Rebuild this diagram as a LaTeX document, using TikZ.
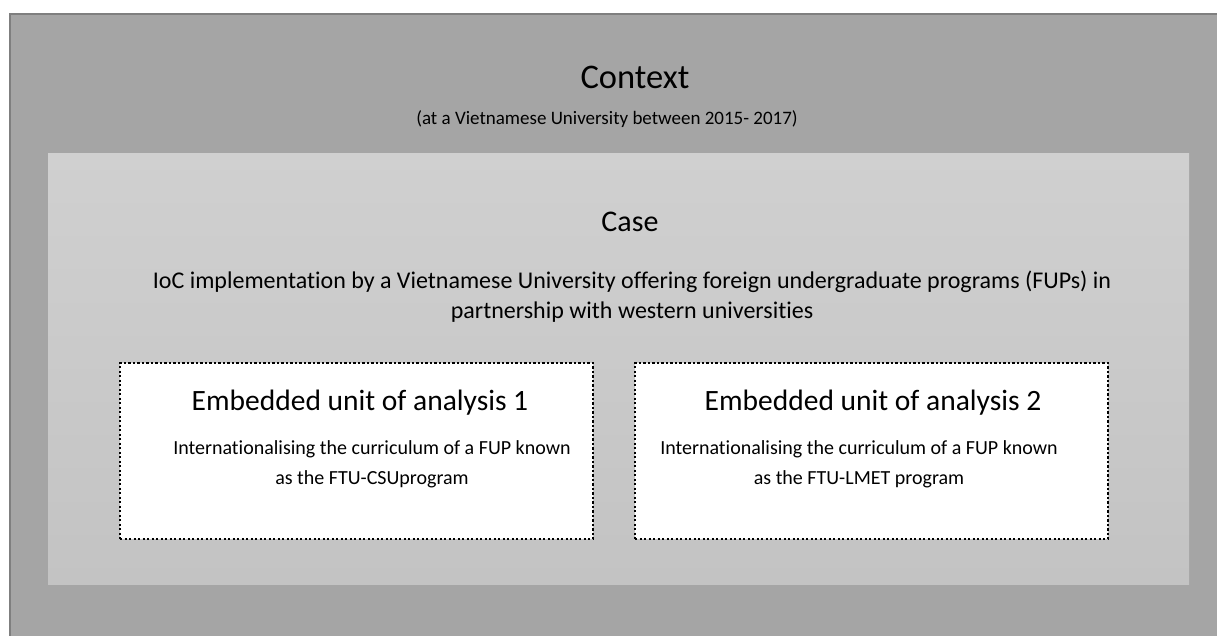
\documentclass[tikz,border=0pt]{standalone}
\usepackage{fontspec}
\setmainfont{Carlito}[Ligatures={NoCommon}]
\usetikzlibrary{positioning}

\definecolor{contextgrey}{HTML}{A5A5A5}
\definecolor{framegrey}{HTML}{7F7F7F}
\definecolor{casetop}{HTML}{D0D0D0}
\definecolor{casebottom}{HTML}{C3C3C3}

\begin{document}
\begin{tikzpicture}[
    x=1pt, y=-1pt,   % une unité = un pixel de l'image
    % Réglages des cadres
    contextbox/.style={draw=framegrey, line width=2.5pt, fill=contextgrey,
        anchor=north west, inner sep=0pt, outer sep=0pt},
    casebox/.style={top color=casetop, bottom color=casebottom,
        anchor=north west, inner sep=0pt, outer sep=0pt},
    unitbox/.style={draw=black, fill=white, line width=2.2pt,
        dash pattern=on 2.2pt off 2.3pt, line cap=butt,
        anchor=north west, inner sep=0pt, outer sep=0pt,
        minimum width=473pt, minimum height=176pt},
    % Réglages des textes (base = dernière ligne)
    bigtitle/.style={anchor=base, inner sep=0pt, font=\fontsize{34.5}{40}\selectfont},
    casetitle/.style={anchor=base, inner sep=0pt, font=\fontsize{30}{34}\selectfont},
    unittitle/.style={anchor=base, inner sep=0pt, font=\fontsize{29.5}{34}\selectfont},
    bodytext/.style={anchor=base, inner sep=0pt, align=center,
        font=\fontsize{24}{30}\selectfont},
    smalltext/.style={anchor=base, inner sep=0pt, align=center,
        font=\fontsize{20}{30}\selectfont}
]
\useasboundingbox (0,0) rectangle (1217,635);

% Cadres
\node[contextbox, minimum width=1240pt, minimum height=650pt] (context) at (10,14) {};
\node[casebox, minimum width=1141pt, minimum height=431pt] (case) at (48,153) {};
\node[unitbox] (unitA) at (120,363) {};
\node[unitbox] (unitB) at (635,363) {};

% Textes
\node[bigtitle] (contexttitle) at (635,88) {Context};
\node[smalltext, font=\fontsize{19}{24}\selectfont] (contextsub) at (607,124)
    {(at a Vietnamese University between 2015- 2017)};
\node[casetitle] (casetitle) at (630,231) {Case};
\node[bodytext] (casetext) at (632,318)
    {IoC implementation by a Vietnamese University offering foreign undergraduate programs (FUPs) in\\
     partnership with western universities};
\node[unittitle] (unitAtitle) at (360,410) {Embedded unit of analysis 1};
\node[smalltext] (unitAtext) at (372,484)
    {Internationalising the curriculum of a FUP known\\ as the FTU-CSUprogram};
\node[unittitle] (unitBtitle) at (873,410) {Embedded unit of analysis 2};
\node[smalltext] (unitBtext) at (859,484)
    {Internationalising the curriculum of a FUP known\\ as the FTU-LMET program};
\end{tikzpicture}
\end{document}
